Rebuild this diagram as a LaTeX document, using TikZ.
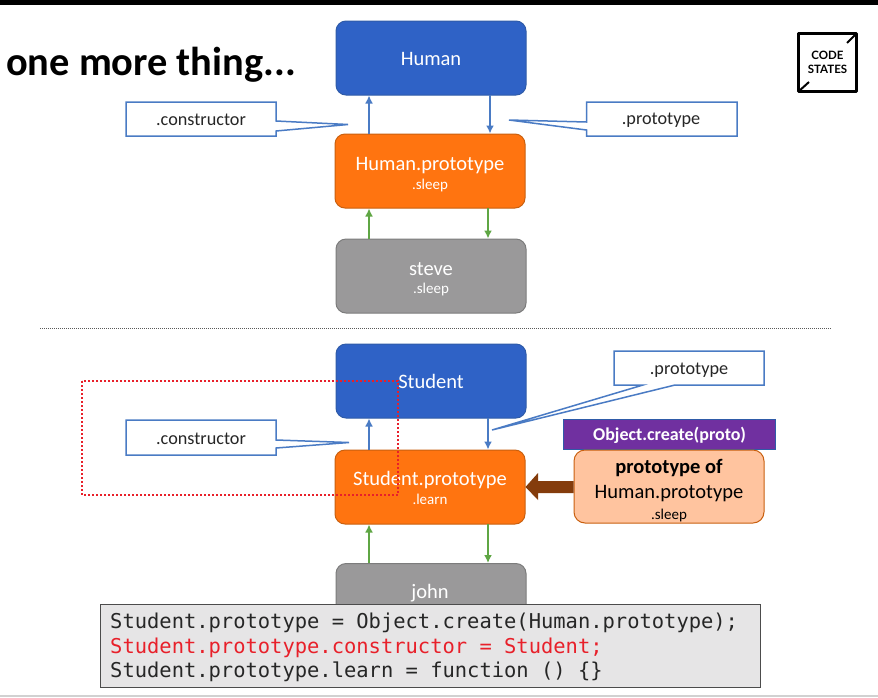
\documentclass[tikz,border=0pt]{standalone}
\usepackage{fontspec}
\setmainfont{Carlito}
\newfontfamily\codefont{DejaVu Sans Mono}
\newfontfamily\logofont{Lato}
\newcommand{\fsz}[1]{\fontsize{#1}{#1}\selectfont}
\newcommand{\lift}[1]{\rule{0pt}{#1pt}}
\definecolor{cblue}{HTML}{2F62C6}
\definecolor{cblueline}{HTML}{2F5BA8}
\definecolor{corange}{HTML}{FF7410}
\definecolor{corangeline}{HTML}{C9600F}
\definecolor{cgray}{HTML}{9A999A}
\definecolor{cgrayline}{HTML}{7C7C7C}
\definecolor{cpeach}{HTML}{FFC49F}
\definecolor{cpurple}{HTML}{7030A0}
\definecolor{cbrown}{HTML}{843C0C}
\definecolor{cgreen}{HTML}{5FA644}
\definecolor{ccall}{HTML}{4A7BC4}
\definecolor{ccode}{HTML}{E6E5E6}
\definecolor{cred}{HTML}{E8202A}
\tikzset{
  slab/.style={draw,line width=1pt,rounded corners=10pt,minimum width=190pt,minimum height=74pt,inner sep=0pt,align=center,text=white,font=\fsz{20.5}},
  bluebox/.style={slab,fill=cblue,draw=cblueline},
  orangebox/.style={slab,fill=corange,draw=corangeline},
  graybox/.style={slab,fill=cgray,draw=cgrayline},
  calltext/.style={inner sep=0pt,font=\fsz{18.2},text=black!85},
  callshape/.style={draw=ccall,line width=1.5pt,fill=white,line join=miter},
  bluearrow/.style={draw=ccall,line width=2pt,-{Latex[length=8pt,width=8pt]}},
  greenarrow/.style={draw=cgreen,line width=2pt,-{Latex[length=8pt,width=8pt]}},
  codeline/.style={inner sep=0pt,anchor=base west,font=\codefont\fsz{20.45}},
}
\usetikzlibrary{arrows.meta}
\begin{document}
\begin{tikzpicture}[x=1pt,y=-1pt]
\useasboundingbox (0,0) rectangle (878,697);
\fill[white] (0,0) rectangle (878,697);
\fill[black] (0,0) rectangle (878,4.5);
\fill[black!18] (0,694.5) rectangle (878,697);

\node[inner sep=0pt,anchor=west,font=\bfseries\fsz{40.4}] (title) at (6,65) {one more thing...};

% logo
\coordinate (lgA) at (798.5,33.5);
\coordinate (lgB) at (856.5,91.5);
\draw[line width=2.4pt,line join=round] (lgA) rectangle (lgB);
\coordinate (lgC) at (847,43);
\coordinate (lgD) at (856.5,33.5);
\coordinate (lgE) at (798.5,91.5);
\coordinate (lgF) at (809,82);
\draw[line width=2pt] (lgC) -- (lgD);
\draw[line width=2pt] (lgE) -- (lgF);
\node[inner sep=0pt,align=center,font=\logofont\bfseries\fsz{11.5}] (logo) at (827.5,62) {CODE\\[2.5pt]STATES};

% top group
\node[bluebox] (human) at (431,58) {\lift{16}Human};
\node[orangebox] (hproto) at (430,171) {\lift{20}Human.prototype\\[-2pt]{\fsz{15}.sleep}};
\node[graybox] (steve) at (431,276) {\lift{19}steve\\[-3pt]{\fsz{15}.sleep}};

\coordinate (h1) at (369,134);
\coordinate (h2) at (490,95);
\coordinate (h3) at (369,239);
\coordinate (h4) at (488,208);
\draw[bluearrow] (h1) -- (h1 |- human.south);
\draw[bluearrow] (h2) -- (h2 |- hproto.north);
\draw[greenarrow] (h3) -- (h3 |- hproto.south);
\draw[greenarrow] (h4) -- (h4 |- steve.north);

% callouts top
\draw[callshape] (126,102) -- (276,102) -- (276,121) -- (348,124.5) -- (276,131) -- (276,136) -- (126,136) -- cycle;
\node[calltext] (c1) at (201,120) {.constructor};
\draw[callshape] (586.5,102) -- (737,102) -- (737,136) -- (586.5,136) -- (586.5,130) -- (509,120) -- (586.5,122) -- cycle;
\node[calltext] (p1) at (661,120.5) {.prototype};

% divider
\coordinate (d1) at (40,328.5);
\coordinate (d2) at (831,328.5);
\draw[line width=1pt,black!65,dash pattern=on 1pt off 1pt] (d1) -- (d2);

% bottom group
\node[bluebox] (student) at (431,381) {\lift{16}Student};
\node[orangebox] (sproto) at (430,487) {\lift{16}Student.prototype\\[-2pt]{\fsz{15}.learn}};
\node[graybox,anchor=north] (john) at (431,563) {};
\node[inner sep=0pt,text=white,font=\fsz{20.5}] (johnt) at (430,593) {john};

\coordinate (s1) at (369,450);
\coordinate (s2) at (488,418);
\coordinate (s3) at (369,563);
\coordinate (s4) at (488,524);
\draw[bluearrow] (s1) -- (s1 |- student.south);
\draw[bluearrow] (s2) -- (s2 |- sproto.north);
\draw[greenarrow] (s3) -- (s3 |- sproto.south);
\draw[greenarrow] (s4) -- (s4 |- john.north);

% callouts bottom
\draw[callshape] (126,420) -- (276,420) -- (276,440) -- (349,442.5) -- (276,448) -- (276,455) -- (126,455) -- cycle;
\node[calltext] (c2) at (201,439) {.constructor};
\draw[callshape] (614,351) -- (764,351) -- (764,385) -- (675,385) -- (492,430) -- (643,385) -- (614,385) -- cycle;
\node[calltext] (p2) at (689,370) {.prototype};

% Object.create and peach box
\node[draw=cblueline,fill=cpurple,line width=1pt,minimum width=212pt,minimum height=30pt,inner sep=0pt,text=white,font=\bfseries\fsz{18}] (ocreate) at (669.5,434.5) {\lift{16}Object.create(proto)};
\node[draw=corangeline,fill=cpeach,line width=1pt,rounded corners=11pt,minimum width=190pt,minimum height=73pt,inner sep=0pt,align=center,text=black,font=\fsz{20.5}] (peach) at (669,486.5) {\lift{23}{\bfseries prototype of}\\[4pt]Human.prototype\\[1pt]{\fsz{15}.sleep}};

% thick arrow
\fill[cbrown] (peach.west |- 0,481) -- (538,481) -- (538,473) -- (sproto.east |- 0,487) -- (538,500) -- (538,493) -- (peach.west |- 0,493) -- cycle;

% red dotted rectangle
\draw[cred,line width=2pt,dash pattern=on 2pt off 2pt] (82,381) rectangle (398,495);

% code box
\node[draw=black!70,fill=ccode,line width=1pt,minimum width=660pt,minimum height=83pt,inner sep=0pt,anchor=north west] (code) at (100,604) {};
\node[codeline,text=black!85] (l1) at (110,628) {Student.prototype = Object.create(Human.prototype);};
\node[codeline,text=cred] (l2) at (110,653) {Student.prototype.constructor = Student;};
\node[codeline,text=black!85] (l3) at (110,677) {Student.prototype.learn = function () \{\}};
\end{tikzpicture}
\end{document}
